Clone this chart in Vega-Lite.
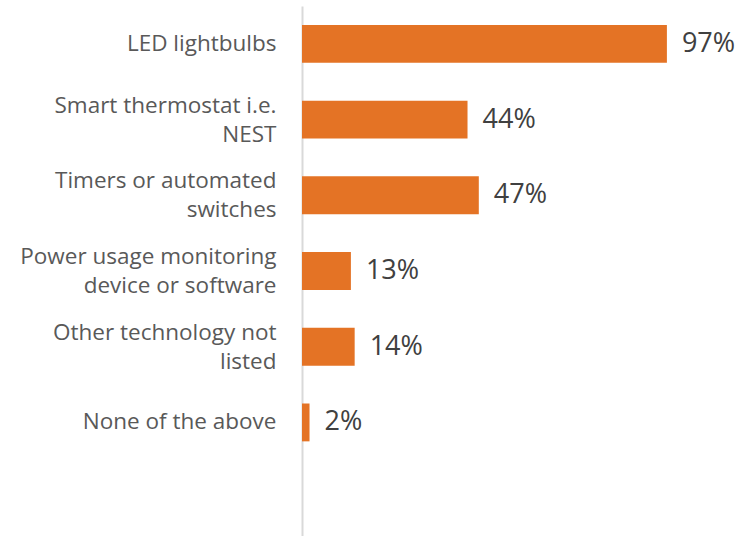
{
  "$schema": "https://vega.github.io/schema/vega-lite/v6.json",
  "width": 436,
  "height": 530,
  "autosize": {"type": "none"},
  "padding": {"left": 302, "top": 6, "right": 0, "bottom": 0},
  "background": "white",
  "data": {"values": [
    {"cat": "LED lightbulbs", "v": 0.97},
    {"cat": "Smart thermostat i.e.\nNEST", "v": 0.44},
    {"cat": "Timers or automated\nswitches", "v": 0.47},
    {"cat": "Power usage monitoring\ndevice or software", "v": 0.13},
    {"cat": "Other technology not\nlisted", "v": 0.14},
    {"cat": "None of the above", "v": 0.02}
  ]},
  "encoding": {
    "y": {
      "field": "cat", "type": "nominal", "title": null,
      "scale": {
        "domain": ["LED lightbulbs", "Smart thermostat i.e.\nNEST", "Timers or automated\nswitches", "Power usage monitoring\ndevice or software", "Other technology not\nlisted", "None of the above", " "],
        "paddingInner": 0.5, "paddingOuter": 0.25
      },
      "axis": {
        "labelExpr": "split(datum.label, '\\n')",
        "labelFont": "Open Sans", "labelFontSize": 22.5, "labelColor": "#595959",
        "labelLineHeight": 29, "labelPadding": 26, "ticks": false,
        "labelOffset": {"condition": {"test": "indexof(datum.label, '\\n') >= 0", "value": -14}, "value": 0},
        "domainColor": "#d9d9d9", "domainWidth": 2, "labelLimit": 400
      }
    },
    "x": {
      "field": "v", "type": "quantitative", "title": null,
      "scale": {"domain": [0, 1.159], "nice": false},
      "axis": null
    }
  },
  "layer": [
    {"mark": {"type": "bar", "color": "#E47325"}},
    {"mark": {"type": "text", "align": "left", "dx": 15, "font": "Open Sans", "fontSize": 27, "color": "#404040"},
     "encoding": {"text": {"field": "v", "type": "quantitative", "format": ".0%"}}}
  ],
  "config": {"view": {"stroke": null}, "axis": {"grid": false}}
}
